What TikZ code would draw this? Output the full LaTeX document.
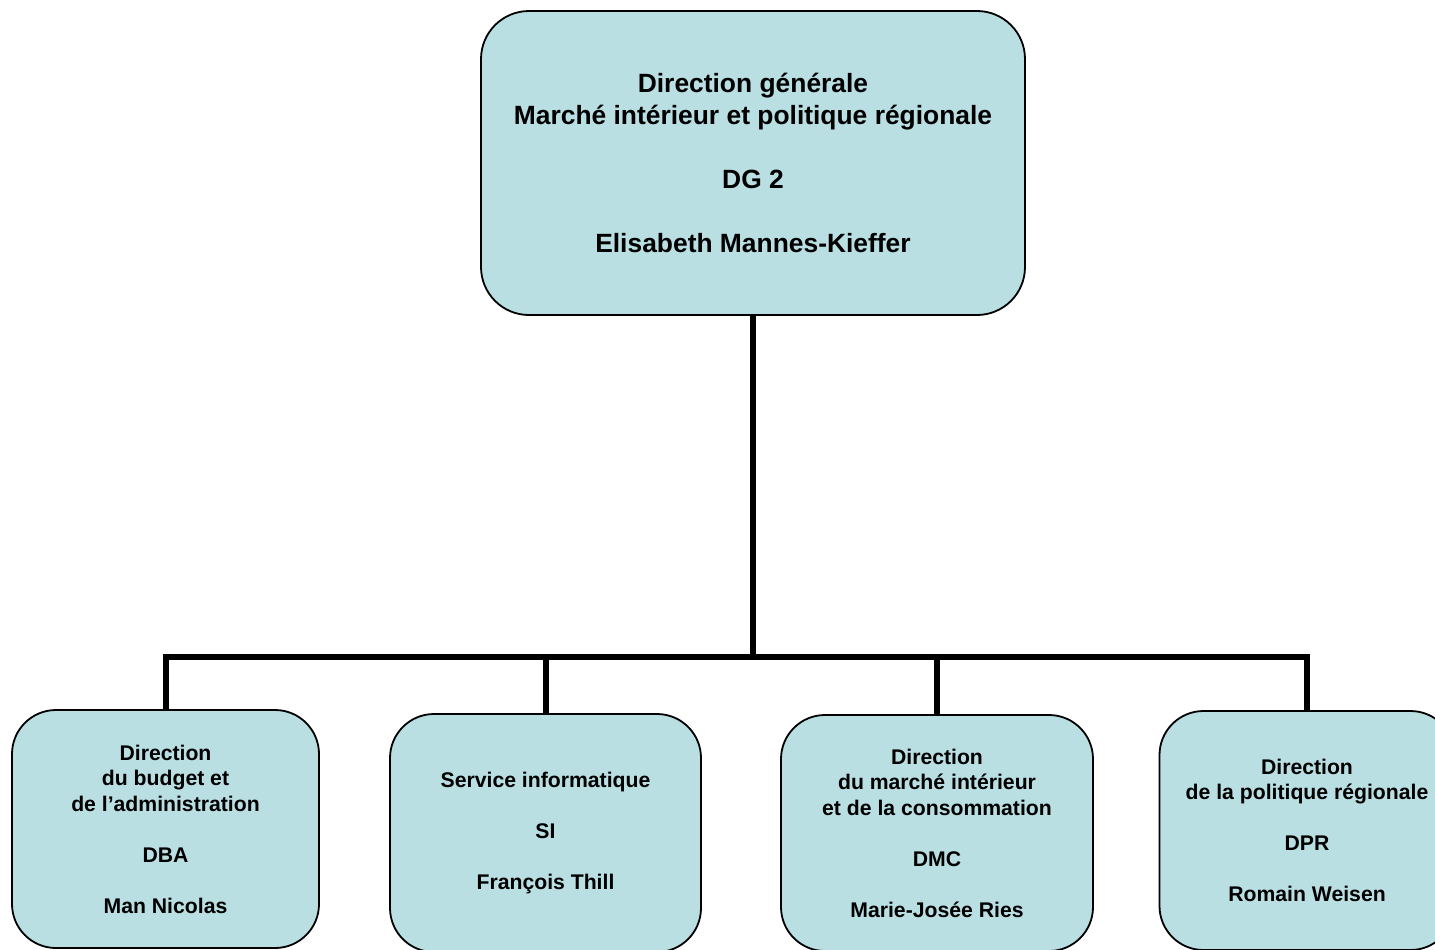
\documentclass[tikz,border=0pt]{standalone}
\usepackage{fontspec}
\setmainfont{Liberation Sans}
\usepackage{tikz}
\usetikzlibrary{positioning, calc}
\definecolor{boxblue}{RGB}{185,223,227}
\begin{document}
\begin{tikzpicture}[x=0.5pt, y=-0.5pt,
  every node/.style={rectangle, rounded corners=22pt, draw, line width=0.9pt, fill=boxblue,
    align=center, inner sep=0pt, font=\bfseries\fontsize{10.6}{12.75}\selectfont},
  link/.style={line width=3pt}]
  \useasboundingbox (0,0) rectangle (1435,949);
  \node[minimum width=272pt, minimum height=152pt, rounded corners=24pt,
        font=\bfseries\fontsize{13.2}{16}\selectfont] (dg) at (753,163)
    {Direction générale\\Marché intérieur et politique régionale\\[16pt]DG 2\\[16pt]Elisabeth Mannes-Kieffer};
  \node[minimum width=153.5pt, minimum height=119pt] (dba) at (165.5,829)
    {Direction\\du budget et\\de l’administration\\[12.75pt]DBA\\[12.75pt]Man Nicolas};
  \node[minimum width=155.5pt, minimum height=119pt] (si) at (545.5,833)
    {Service informatique\\[12.75pt]SI\\[12.75pt]François Thill};
  \node[minimum width=156pt, minimum height=118pt] (dmc) at (937,833)
    {Direction\\du marché intérieur\\et de la consommation\\[12.75pt]DMC\\[12.75pt]Marie-Josée Ries};
  \node[minimum width=147.5pt, minimum height=119.5pt] (dpr) at (1307,830.5)
    {Direction\\de la politique régionale\\[12.75pt]DPR\\[12.75pt]Romain Weisen};
  \coordinate (jn) at (753,657);
  \draw[link] (dg.south) -- (jn);
  \draw[link] (jn) -| (dba.north);
  \draw[link] (jn) -| (si.north);
  \draw[link] (jn) -| (dmc.north);
  \draw[link] (jn) -| (dpr.north);
\end{tikzpicture}
\end{document}
